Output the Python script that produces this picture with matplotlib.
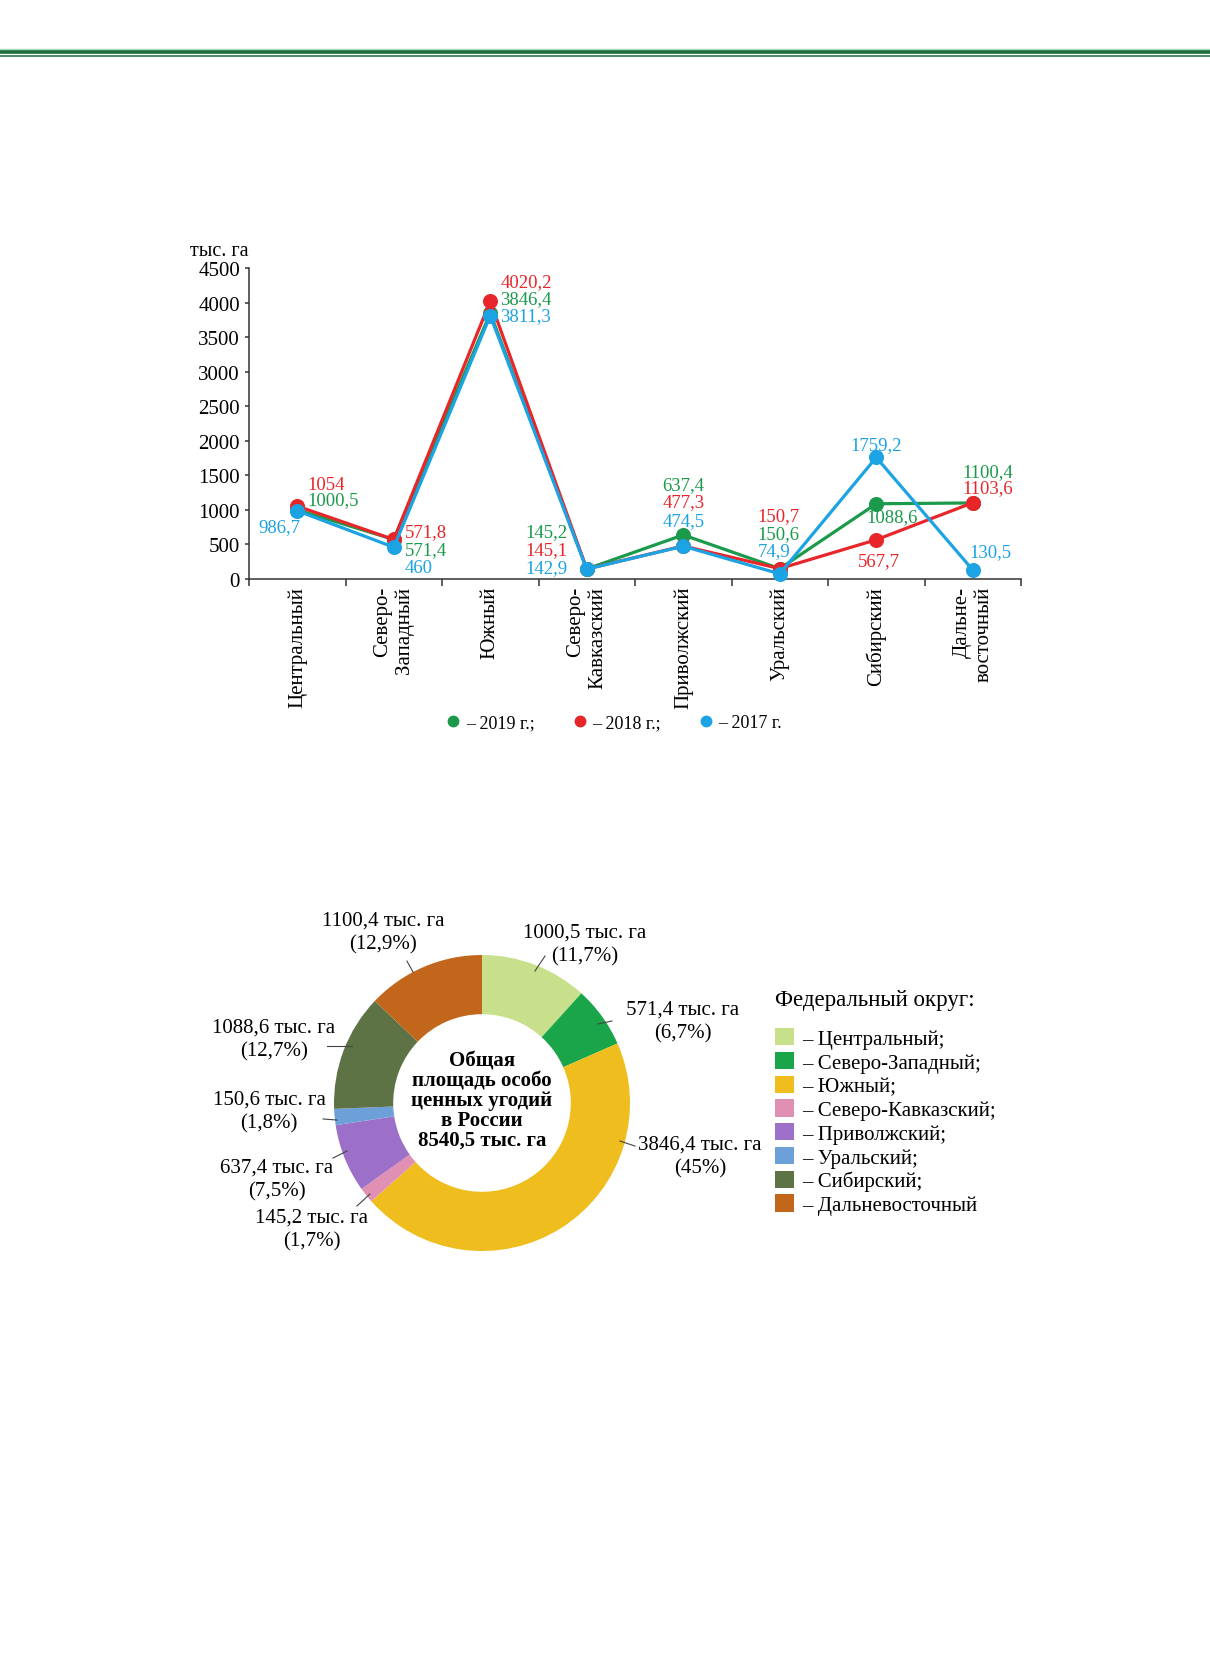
import numpy as np
import matplotlib.pyplot as plt
from matplotlib.lines import Line2D
from matplotlib.patches import Patch

plt.rcParams['font.family'] = ['Liberation Serif', 'DejaVu Serif']

# --- data ---
districts = ['Центральный', 'Северо-\nЗападный', 'Южный', 'Северо-\nКавказский',
             'Приволжский', 'Уральский', 'Сибирский', 'Дальне-\nвосточный']
legend_districts = ['Центральный', 'Северо-Западный', 'Южный', 'Северо-Кавказский',
                    'Приволжский', 'Уральский', 'Сибирский', 'Дальневосточный']
area_2019 = [1000.5, 571.4, 3846.4, 145.2, 637.4, 150.6, 1088.6, 1100.4]
area_2018 = [1054, 571.8, 4020.2, 145.1, 477.3, 150.7, 567.7, 1103.6]
area_2017 = [986.7, 460, 3811.3, 142.9, 474.5, 74.9, 1759.2, 130.5]
years = ['2019 г.;', '2018 г.;', '2017 г.']
total_area = 8540.5

# --- styles / layout ---
line_colors = ['#1a9a4a', '#e8262a', '#1ba3e3']
pie_colors = ['#c8e08c', '#1aa54a', '#efbd1e', '#e090b2', '#9c70c8', '#6d9fd9', '#5e7345', '#c2661c']

# label offsets in pixels from each point: (dx, dy, ha)
offs_2019 = [(10, 10, 'left'), (11, -10, 'left'), (10, 15, 'left'), (-19, 37, 'right'),
             (0, 50, 'center'), (-22, 35, 'left'), (16, -13, 'center'), (15, 31, 'center')]
offs_2018 = [(10, 22, 'left'), (11, 8, 'left'), (10, 20, 'left'), (-19, 19, 'right'),
             (0, 44, 'center'), (-22, 53, 'left'), (3, -21, 'center'), (15, 15, 'center')]
offs_2017 = [(3, -16, 'right'), (11, -20, 'left'), (10, 0, 'left'), (-19, 2, 'right'),
             (0, 26, 'center'), (-22, 23, 'left'), (0, 13, 'center'), (18, 18, 'center')]

W, H = 1210, 1681


def fx(px):
    return px / W


def fy(py):
    return 1 - py / H


def fmt(v):
    if float(v).is_integer():
        return str(int(v))
    return ('%.1f' % v).replace('.', ',')


fig = plt.figure(figsize=(W / 100, H / 100), dpi=100)

# header lines
fig.add_artist(Line2D([0, 1], [fy(50.4)] * 2, transform=fig.transFigure, color='#a8dab8', lw=1.0))
fig.add_artist(Line2D([0, 1], [fy(53.2)] * 2, transform=fig.transFigure, color='#1b6b3b', lw=2.6))
fig.add_artist(Line2D([0, 1], [fy(57.4)] * 2, transform=fig.transFigure, color='#1b6b3b', lw=1.1))

# --- line chart ---
ax = fig.add_axes([fx(249), fy(580), fx(1021) - fx(249), fy(269) - fy(580)])
x = np.arange(len(districts))
series = [area_2019, area_2018, area_2017]
offsets = [offs_2019, offs_2018, offs_2017]
for k, (vals, c) in enumerate(zip(series, line_colors)):
    ax.plot(x, vals, '-o', color=c, lw=2.3, ms=9.8, zorder=3 + k, clip_on=False)
for vals, c, offs in zip(series, line_colors, offsets):
    for i, v in enumerate(vals):
        dx, dy, ha = offs[i]
        ax.annotate(fmt(v), (x[i], v), xytext=(dx, dy), textcoords='offset pixels',
                    ha=ha, va='center', color=c, fontsize=13.5)

ax.set_xlim(-0.5, len(districts) - 0.5)
ax.set_ylim(0, 4500)
ax.set_yticks(np.arange(0, 4501, 500))
ax.set_xticks(x)
ax.set_xticklabels(districts, rotation=90, ha='center', va='top', multialignment='right')
ax.set_xticks(np.arange(-0.5, len(districts), 1), minor=True)
ax.tick_params(axis='x', which='major', length=0, pad=5, labelsize=15)
ax.tick_params(axis='x', which='minor', length=5, width=1.1, direction='out', color='#333333')
ax.tick_params(axis='y', length=3, width=1.1, pad=3.5, labelsize=15, color='#333333')
for s in ['top', 'right']:
    ax.spines[s].set_visible(False)
for s in ['left', 'bottom']:
    ax.spines[s].set_linewidth(1.1)
    ax.spines[s].set_color('#333333')
fig.text(fx(248), fy(251), 'тыс. га', ha='right', va='center', fontsize=14.5)

handles = [Line2D([0], [0], marker='o', ls='none', color=c, markersize=7.5) for c in line_colors]
fig.legend(handles, ['– ' + y for y in years], loc='center', bbox_to_anchor=(fx(614), fy(724)),
           ncol=3, frameon=False, fontsize=13, handlelength=0.8, handletextpad=0.3,
           columnspacing=2.1, borderpad=0)

# --- donut chart ---
R, cx, cy = 148, 482, 1104
dax = fig.add_axes([fx(cx - R), fy(cy + R), 2 * R / W, 2 * R / H])
dax.pie(area_2019, colors=pie_colors, startangle=90, counterclock=False,
        wedgeprops=dict(width=0.4, edgecolor='none'))
dax.set_xlim(-1, 1)
dax.set_ylim(-1, 1)
dax.set_aspect('equal')
dax.text(0, 0.02, 'Общая\nплощадь особо\nценных угодий\nв России\n' + fmt(total_area) + ' тыс. га',
         ha='center', va='center', fontsize=15, fontweight='bold', linespacing=1.0)

# label centres and leader segments in donut units
label_pos = [(0.696, 1.074), (1.358, 0.554), (1.473, -0.358), (-1.149, -0.851),
             (-1.385, -0.514), (-1.439, -0.054), (-1.405, 0.432), (-0.669, 1.155)]
leaders = [((0.358, 0.892), (0.426, 0.993)), ((0.784, 0.534), (0.878, 0.554)),
           ((0.932, -0.257), (1.034, -0.291)), ((-0.757, -0.615), (-0.845, -0.696)),
           ((-0.912, -0.324), (-1.007, -0.372)), ((-0.980, -0.115), (-1.074, -0.108)),
           ((-0.878, 0.385), (-1.047, 0.385)), ((-0.466, 0.885), (-0.507, 0.959))]
for v, (tx, ty), (a, b) in zip(area_2019, label_pos, leaders):
    pct = ('%.1f' % (v / total_area * 100)).replace('.', ',')
    if pct.endswith(',0'):
        pct = pct[:-2]
    dax.text(tx, ty, fmt(v) + ' тыс. га\n(' + pct + '%)', ha='center', va='center',
             fontsize=15, linespacing=1.3, clip_on=False)
    dax.plot([a[0], b[0]], [a[1], b[1]], color='#444444', lw=0.8, clip_on=False)

leg_labels = ['– ' + d + (';' if i < len(legend_districts) - 1 else '')
              for i, d in enumerate(legend_districts)]
leg = fig.legend([Patch(facecolor=c) for c in pie_colors], leg_labels, loc='upper left',
                 bbox_to_anchor=(fx(775), fy(990)), frameon=False, fontsize=15,
                 title='Федеральный округ:', title_fontsize=16.5, alignment='left',
                 handlelength=0.9, handleheight=0.9, handletextpad=0.4, labelspacing=0.14,
                 borderpad=0, borderaxespad=0)
leg._legend_box.sep = 13

fig.savefig('out.png', dpi=100)
